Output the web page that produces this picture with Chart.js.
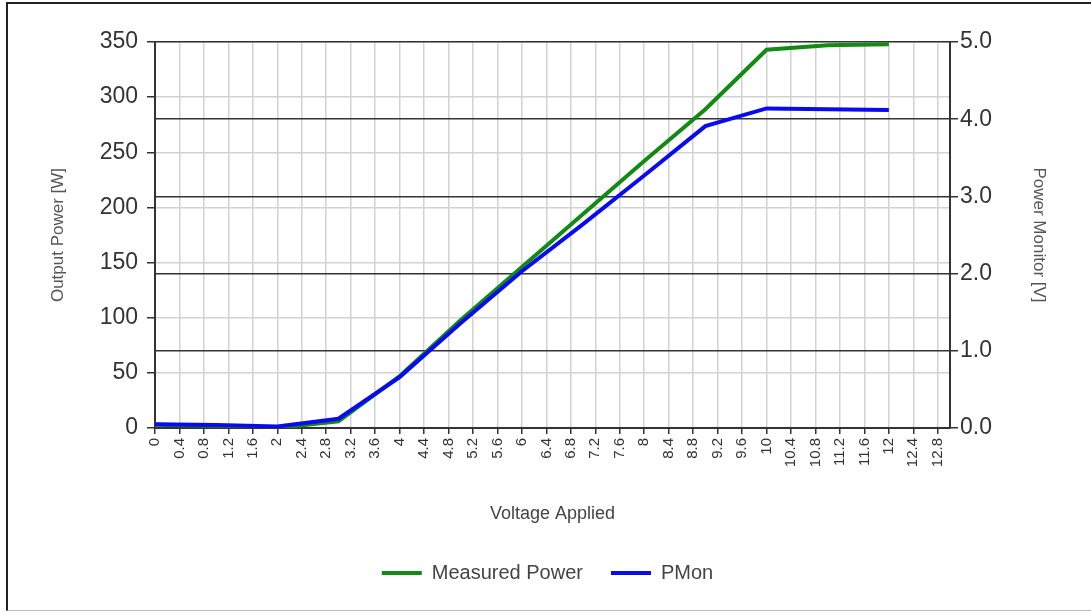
<!DOCTYPE html>
<html>
<head>
<meta charset="utf-8">
<script src="https://cdn.jsdelivr.net/npm/chart.js@4/dist/chart.umd.min.js"></script>
<style>
  html, body { margin: 0; padding: 0; background: #fff; }
  #wrap { position: relative; width: 1091px; height: 612px; overflow: hidden; }
  #frame { position: absolute; left: 6px; top: 2px; right: -4px; bottom: 1px;
           border-left: 2px solid #222; border-top: 2px solid #222; border-bottom: 1px solid #bbb; pointer-events: none; }
  canvas { position: absolute; left: 0; top: 0; }
</style>
</head>
<body>
<div id="wrap">
  <canvas id="chart" width="1091" height="612"></canvas>
  <div id="frame"></div>
</div>
<script>
// data
const voltage = [0, 1, 2, 3, 4, 5, 6, 7, 8, 9, 10, 11, 12];
const measuredPower = [3, 2, 0, 6, 47, 98, 146, 194, 242, 289, 343, 347, 348];
const pMon = [0.05, 0.04, 0.02, 0.12, 0.66, 1.36, 2.03, 2.64, 3.27, 3.91, 4.14, 4.13, 4.12];

const xTickValues = [0, 0.4, 0.8, 1.2, 1.6, 2, 2.4, 2.8, 3.2, 3.6, 4, 4.4, 4.8, 5.2, 5.6, 6, 6.4, 6.8,
  7.2, 7.6, 8, 8.4, 8.8, 9.2, 9.6, 10, 10.4, 10.8, 11.2, 11.6, 12, 12.4, 12.8];
const leftTicks = [0, 50, 100, 150, 200, 250, 300, 350];
const rightTicks = [0, 1, 2, 3, 4, 5];

const toPoints = (xs, ys) => xs.map((x, i) => ({ x, y: ys[i] }));

const font = 'Liberation Sans, Arial, sans-serif';

new Chart(document.getElementById('chart'), {
  type: 'line',
  data: {
    datasets: [
      {
        label: 'Measured Power',
        data: toPoints(voltage, measuredPower),
        borderColor: '#138a13',
        backgroundColor: '#138a13',
        borderWidth: 4,
        pointRadius: 0,
        tension: 0,
        yAxisID: 'y',
        order: 1
      },
      {
        label: 'PMon',
        data: toPoints(voltage, pMon),
        borderColor: '#0a0af0',
        backgroundColor: '#0a0af0',
        borderWidth: 4,
        pointRadius: 0,
        tension: 0,
        yAxisID: 'y2',
        order: 0
      }
    ]
  },
  options: {
    responsive: false,
    animation: false,
    layout: { padding: { top: 42, left: 42, right: 38, bottom: 19 } },
    plugins: {
      tooltip: { enabled: false },
      legend: {
        position: 'bottom',
        labels: {
          font: { family: font, size: 20 },
          color: '#444',
          boxWidth: 40,
          boxHeight: 4,
          padding: 28,
          sort: (a, b) => a.datasetIndex - b.datasetIndex,
          generateLabels: chart => Chart.defaults.plugins.legend.labels.generateLabels(chart)
            .map(l => ({ ...l, lineWidth: 0 }))
        }
      }
    },
    scales: {
      x: {
        type: 'linear',
        min: 0,
        max: 13,
        afterBuildTicks: s => { s.ticks = xTickValues.map(v => ({ value: v })); },
        afterFit: s => { s.height = 107; },
        ticks: {
          autoSkip: false,
          minRotation: 90,
          maxRotation: 90,
          padding: 4,
          color: '#333',
          font: { family: font, size: 15 },
          callback: (v, i) => String(xTickValues[i])
        },
        grid: { color: '#d2d2d2', lineWidth: 1.5, tickLength: 6, tickColor: '#333' },
        border: { color: '#333', width: 2 },
        title: {
          display: true,
          text: 'Voltage Applied',
          color: '#444',
          font: { family: font, size: 18 },
          padding: { top: 4, bottom: 10 }
        }
      },
      y: {
        position: 'left',
        min: 0,
        max: 350,
        afterBuildTicks: s => { s.ticks = leftTicks.map(v => ({ value: v })); },
        afterFit: s => { s.width = 113; },
        ticks: { color: '#333', padding: 9, font: { family: font, size: 23 } },
        grid: { color: '#d2d2d2', lineWidth: 1.5, tickLength: 8, tickColor: '#333' },
        border: { color: '#333', width: 2 },
        title: {
          display: true,
          text: 'Output Power [W]',
          color: '#555',
          font: { family: font, size: 17 },
          padding: { top: 6, bottom: 4 }
        }
      },
      y2: {
        position: 'right',
        min: 0,
        max: 5,
        afterBuildTicks: s => { s.ticks = rightTicks.map(v => ({ value: v })); },
        afterFit: s => { s.width = 103; },
        ticks: {
          color: '#333',
          padding: 2,
          font: { family: font, size: 23 },
          callback: v => v.toFixed(1)
        },
        grid: { color: '#333', lineWidth: 1.5, tickLength: 8, tickColor: '#333' },
        border: { color: '#333', width: 2 },
        title: {
          display: true,
          text: 'Power Monitor [V]',
          color: '#555',
          font: { family: font, size: 17 },
          padding: { top: 4, bottom: 4 }
        }
      }
    }
  }
});
</script>
</body>
</html>
